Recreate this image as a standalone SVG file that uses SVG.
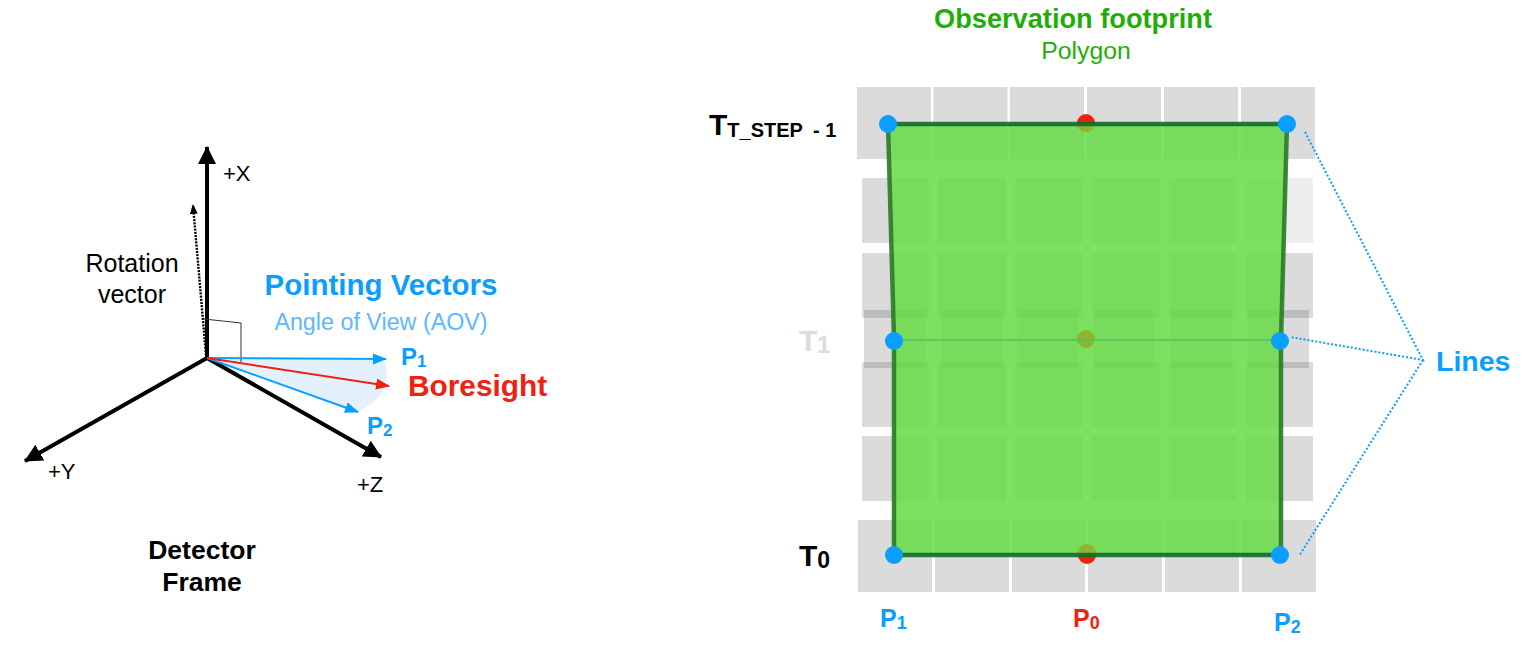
<svg xmlns="http://www.w3.org/2000/svg" width="1528" height="652" viewBox="0 0 1528 652">
<style>
text{font-family:"Liberation Sans",Arial,sans-serif}
.b{font-weight:bold}
.blue{fill:#0a9fff}.red{fill:#ee2211}.grn{fill:#1fae08}.blk{fill:#000}
.ax{stroke:#000;stroke-width:4;fill:none}
.cell{fill:#000;fill-opacity:.14}
.dot{fill:#0a9fff}
.dl{stroke:#0a9fff;stroke-width:2;stroke-dasharray:2 2;fill:none}
</style>
<defs>
<marker id="ah" markerUnits="userSpaceOnUse" markerWidth="20" markerHeight="20" refX="17" refY="10" orient="auto"><path d="M0 1L18 10L0 19z" fill="#000"/></marker>
<marker id="ab" markerUnits="userSpaceOnUse" markerWidth="14" markerHeight="14" refX="13" refY="7" orient="auto"><path d="M0 1.500L14 7L0 12.500z" fill="#0a9fff"/></marker>
<marker id="ar" markerUnits="userSpaceOnUse" markerWidth="14" markerHeight="14" refX="13" refY="7" orient="auto"><path d="M0 1.500L14 7L0 12.500z" fill="#ee2211"/></marker>
<marker id="ad" markerUnits="userSpaceOnUse" markerWidth="10" markerHeight="10" refX="9" refY="5" orient="auto"><path d="M0 1L10 5L0 9z" fill="#000"/></marker>
</defs>
<g id="detector-frame">
<path id="aov-wedge" d="M207 358L384 360Q396 395 358 411Z" fill="#e3f1fd"/>
<g id="connectors">
<line class="ax" x1="207" y1="358" x2="207" y2="147" marker-end="url(#ah)"/>
<line class="ax" x1="207" y1="358" x2="25" y2="461" marker-end="url(#ah)"/>
<line class="ax" x1="207" y1="358" x2="381" y2="457" marker-end="url(#ah)"/>
<line x1="206" y1="355" x2="193" y2="205" stroke="#000" stroke-width="2.4" stroke-dasharray="2 1.2" marker-end="url(#ad)"/>
<path d="M204 319L241 323V362" fill="none" stroke="#333" stroke-width="1"/>
<line x1="207" y1="358" x2="386" y2="359" stroke="#0a9fff" stroke-width="2" marker-end="url(#ab)"/>
<line x1="207" y1="358" x2="358" y2="412" stroke="#0a9fff" stroke-width="2" marker-end="url(#ab)"/>
<line x1="207" y1="358" x2="389" y2="386" stroke="#ee2211" stroke-width="2" marker-end="url(#ar)"/>
</g>
<text x="223" y="181" font-size="22">+X</text>
<text x="48" y="479" font-size="22">+Y</text>
<text x="357" y="492" font-size="22">+Z</text>
<text x="132" y="272" font-size="25" text-anchor="middle">Rotation</text>
<text x="132" y="303" font-size="25" text-anchor="middle">vector</text>
<text x="381" y="295" font-size="29.500" class="b blue" text-anchor="middle">Pointing Vectors</text>
<text x="381" y="330" font-size="23.300" fill="#5cb8ff" text-anchor="middle">Angle of View (AOV)</text>
<text x="401" y="365" font-size="24" class="b blue">P<tspan font-size="17" dy="2">1</tspan></text>
<text x="408" y="396" font-size="29.800" class="b red">Boresight</text>
<text x="367" y="434" font-size="24" class="b blue">P<tspan font-size="17" dy="2">2</tspan></text>
<text x="202" y="559" font-size="26.500" class="b" text-anchor="middle">Detector</text>
<text x="202" y="591" font-size="26.500" class="b" text-anchor="middle">Frame</text>
</g>
<g id="footprint-grid">
<path class="cell" d="M857 87h74v72h-74zM933.500 87h74v72h-74zM1010 87h74v72h-74zM1087 87h74v72h-74zM1164 87h74v72h-74zM1241 87h74v72h-74z"/>
<path class="cell" d="M862 178h67v65h-67zM938 178h68v65h-68zM1015 178h68v65h-68zM1092 178h68v65h-68zM1169 178h67v65h-67z"/>
<path class="cell" style="fill-opacity:.065" d="M1246 178h67v65h-67z"/>
<path class="cell" d="M862 253h67v65h-67zM938 253h68v65h-68zM1015 253h68v65h-68zM1092 253h68v65h-68zM1169 253h67v65h-67zM1246 253h67v65h-67z"/>
<path class="cell" d="M864 310h61v58h-61zM941 310h61v58h-61zM1017 310h61v58h-61zM1094 310h61v58h-61zM1171 310h61v58h-61zM1248 310h61v58h-61z"/>
<path class="cell" d="M862 362h67v65h-67zM938 362h68v65h-68zM1015 362h68v65h-68zM1092 362h68v65h-68zM1169 362h67v65h-67zM1246 362h67v65h-67z"/>
<path class="cell" d="M862 436h67v65h-67zM938 436h68v65h-68zM1015 436h68v65h-68zM1092 436h68v65h-68zM1169 436h67v65h-67zM1246 436h67v65h-67z"/>
<path class="cell" d="M858 520h74v72h-74zM935 520h74v72h-74zM1012 520h73v72h-73zM1088 520h74v72h-74zM1165 520h74v72h-74zM1242 520h74v72h-74z"/>
</g>
<g id="p0-top"><circle cx="1086" cy="123" r="9" fill="#ee2211"/></g>
<g id="p0-bottom"><circle cx="1087" cy="555" r="9" fill="#ee2211"/></g>
<g id="polygon">
<path d="M888 124H1287L1281 340V555H894V340Z" fill="#66db44" fill-opacity=".85"/>
<path d="M1077.500 126A9 9 0 0 0 1094.500 126Z" fill="#8fb52f"/>
<circle cx="1086" cy="339" r="9" fill="#8fb52f"/>
<path d="M1078 553A9 9 0 0 1 1096 553Z" fill="#8fb52f"/>
<line x1="894" y1="340" x2="1281" y2="340" stroke="#45c95e" stroke-width="1.5"/>
<path d="M888 124L894 340V555M1287 124L1281 340V555" fill="none" stroke="#2a7a26" stroke-opacity=".9" stroke-width="4.500"/>
<path d="M888 124H1287M894 555H1281" fill="none" stroke="#106a28" stroke-opacity=".9" stroke-width="4.500"/>
</g>
<g id="pointing-dots">
<circle class="dot" cx="888" cy="124" r="9"/><circle class="dot" cx="1287" cy="124" r="9"/>
<circle class="dot" cx="894" cy="341" r="9"/><circle class="dot" cx="1280" cy="341" r="9"/>
<circle class="dot" cx="894" cy="555" r="9"/><circle class="dot" cx="1280" cy="555" r="9"/>
</g>
<g id="line-leaders">
<path class="dl" d="M1305 132L1423 360L1290 337"/>
<path class="dl" d="M1423 360L1299 556"/>
</g>
<g id="labels">
<text x="1073" y="28" font-size="27.200" class="b grn" text-anchor="middle">Observation footprint</text>
<text x="1086" y="59" font-size="24.800" class="grn" text-anchor="middle">Polygon</text>
<text x="709" y="135" font-size="30" class="b">T<tspan font-size="20" dy="2">T_STEP</tspan><tspan font-size="20" x="813">- 1</tspan></text>
<text x="799" y="351" font-size="30" class="b" fill="#dcdcdc">T<tspan font-size="23" dy="2">1</tspan></text>
<text x="799" y="566" font-size="30" class="b">T<tspan font-size="23" dy="2">0</tspan></text>
<text x="880" y="627" font-size="25" class="b blue">P<tspan font-size="18" dy="2">1</tspan></text>
<text x="1073" y="627" font-size="25" class="b red">P<tspan font-size="18" dy="2">0</tspan></text>
<text x="1274" y="631" font-size="25" class="b blue">P<tspan font-size="18" dy="2">2</tspan></text>
<text x="1436" y="371" font-size="28.500" class="b blue">Lines</text>
</g>
</svg>
